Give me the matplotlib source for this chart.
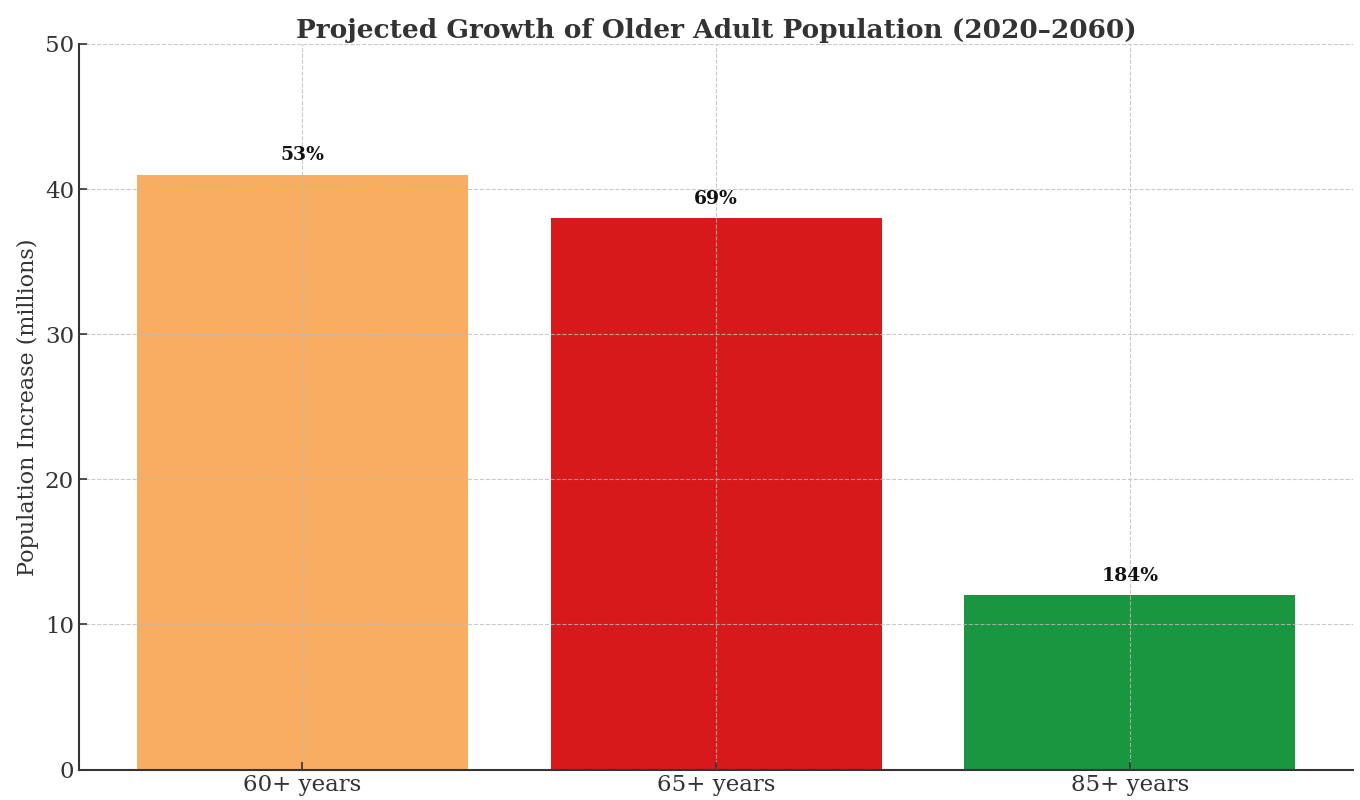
import matplotlib
matplotlib.use('Agg')
from matplotlib import pyplot as plt

# data
groups = ['60+ years', '65+ years', '85+ years']
increase = [41, 38, 12]
growth_pct = ['53%', '69%', '184%']
colors = ['#F9AD62', '#D7191C', '#1A9641']

plt.rcParams['font.family'] = ['DejaVu Serif']
plt.rcParams['text.color'] = '#222222'

fig, ax = plt.subplots(figsize=(13.6, 8), dpi=100)
bars = ax.bar(groups, increase, color=colors, width=0.8)

for b, lab in zip(bars, growth_pct):
    ax.text(b.get_x() + b.get_width() / 2, b.get_height() + 0.7, lab,
            ha='center', va='bottom', fontsize=13.5, fontweight='bold', color='#111111')

ax.set_ylim(0, 50)
ax.set_ylabel('Population Increase (millions)', fontsize=16, color='#333333', labelpad=4)
ax.set_title('Projected Growth of Older Adult Population (2020\u20132060)',
             fontsize=19, fontweight='bold', color='#333333', pad=4)
ax.tick_params(direction='in', labelsize=16.5, colors='#333333', length=6, width=1.2)
ax.grid(True, linestyle='--', color='#bbbbbb', linewidth=0.8, alpha=0.8)
ax.set_axisbelow(False)
for s in ['top', 'right']:
    ax.spines[s].set_visible(False)
for s in ['left', 'bottom']:
    ax.spines[s].set_linewidth(1.5)
    ax.spines[s].set_color('#333333')

plt.subplots_adjust(left=0.058, right=0.995, top=0.945, bottom=0.038)
plt.savefig('out.png')
